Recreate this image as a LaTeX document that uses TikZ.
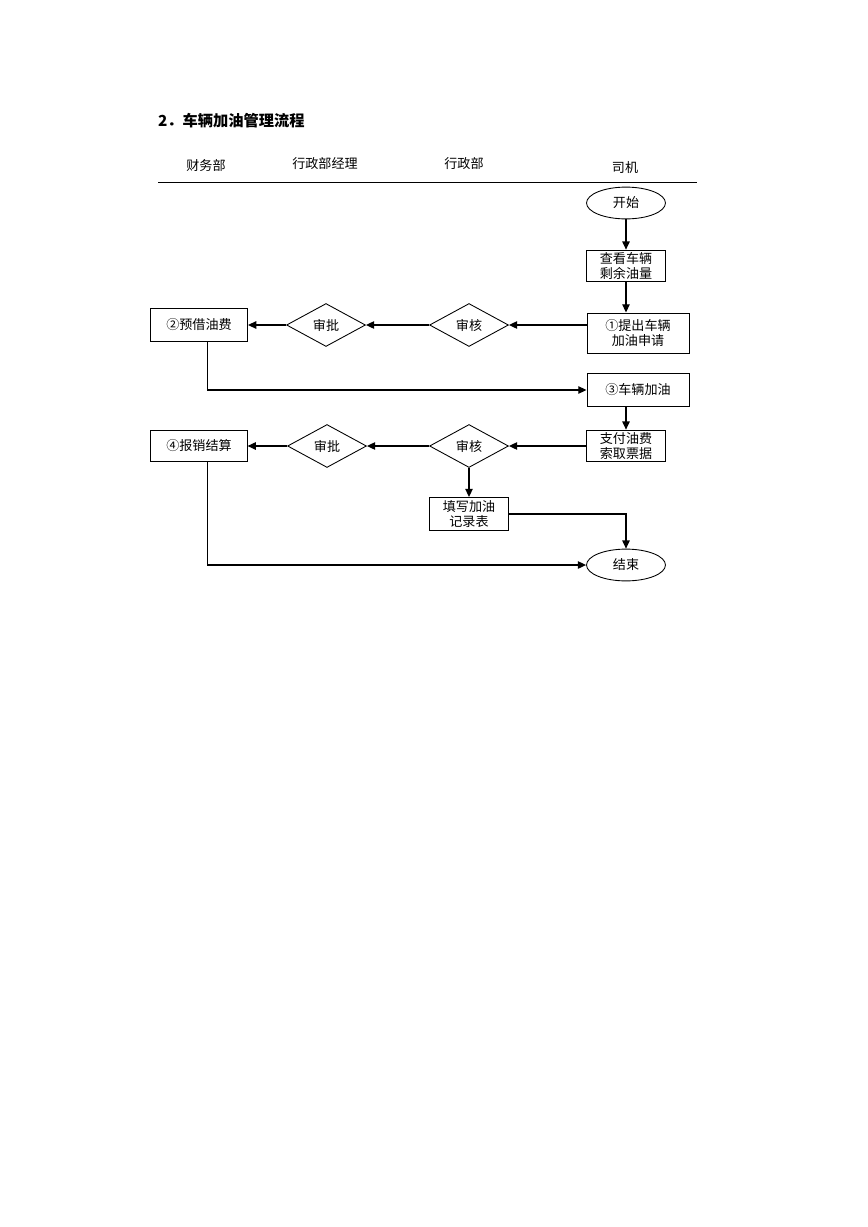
\documentclass[tikz,border=0pt]{standalone}
\usepackage{fontspec}
\setmainfont{Noto Sans CJK SC}
\usepackage{tikz}
\usetikzlibrary{shapes.geometric,arrows.meta}
\definecolor{ln}{RGB}{0, 0, 0}

\begin{document}
\begin{tikzpicture}[x=0.242mm,y=-0.242mm,
  txt/.style={font=\fontsize{9pt}{10.5pt}\selectfont, align=center, inner sep=0pt},
  box/.style={txt, draw=ln, line width=0.6pt, minimum width=19.1mm, minimum height=7.7mm},
  wbox/.style={box, minimum width=24.7mm},
  oval/.style={txt, ellipse, draw=ln, line width=0.6pt, minimum width=19.1mm, minimum height=7.7mm},
  chk/.style={txt, diamond, draw=ln, line width=0.6pt, aspect=1.8, minimum width=19.1mm, minimum height=10.4mm},
  arr/.style={line width=0.9pt, -{Triangle[length=2mm,width=1.8mm]}}]
\useasboundingbox (0,0) rectangle (868,1227);

% title and lanes
\node (title) at (153,121) [anchor=west] {\fontsize{10.5pt}{12pt}\selectfont\bfseries 2．车辆加油管理流程};
\node (lane1) at (206,165) [txt] {财务部};
\node (lane2) at (325,164) [txt] {行政部经理};
\node (lane3) at (464,164) [txt] {行政部};
\node (lane4) at (625,168) [txt] {司机};
\draw [line width=0.6pt] (158,182) -- (697,182);

% driver
\node (start) at (626,203) [oval] {开始};
\node (check) at (626,266) [box] {查看车辆\\剩余油量};
\node (apply) at (638,333) [wbox, minimum height=9.7mm] {①提出车辆\\加油申请};
\node (fuel) at (638,390) [wbox, minimum height=8mm] {③车辆加油};
\node (pay) at (626,446) [box] {支付油费\\索取票据};
\node (stop) at (626,565) [oval] {结束};

% admin
\node (audit1) at (469,325) [chk] {审核};
\node (audit2) at (469,446) [chk] {审核};
\node (record) at (469,514) [box, minimum height=8mm] {填写加油\\记录表};
\node (ok1) at (326,325) [chk] {审批};
\node (ok2) at (327,446) [chk] {审批};

% finance
\node (borrow) at (199,325) [box, minimum width=23.5mm, minimum height=8mm] {②预借油费};
\node (claim) at (199,446) [box, minimum width=23.3mm] {④报销结算};

\draw [arr] (start) -- (check);
\draw [arr] (check.south) -- (check.south |- apply.north);
\draw [arr] (apply.west |- audit1) -- (audit1.east);
\draw [arr] (audit1) -- (ok1);
\draw [arr] (ok1) -- (borrow);
\draw [arr] ([xshift=2mm]borrow.south) |- (fuel.west);
\draw [arr] (pay.north |- fuel.south) -- (pay.north);
\draw [arr] (pay) -- (audit2);
\draw [arr] (audit2) -- (ok2);
\draw [arr] (ok2) -- (claim);
\draw [arr] (audit2) -- (record);
\draw [arr] (record.east) -| (stop.north);
\draw [arr] ([xshift=2mm]claim.south) |- (stop.west);
\end{tikzpicture}
\end{document}
